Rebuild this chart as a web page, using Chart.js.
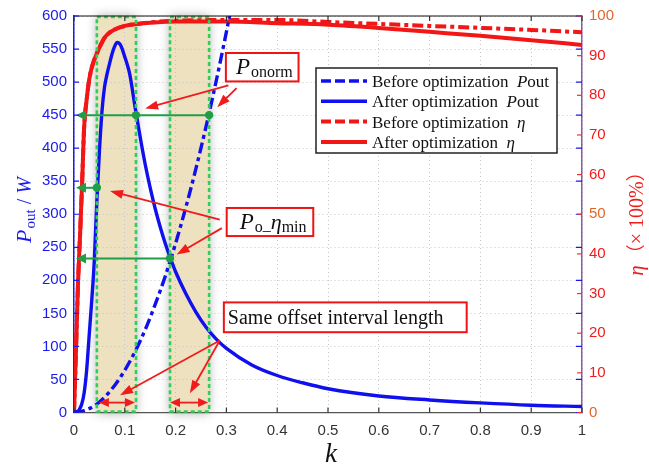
<!DOCTYPE html>
<html>
<head>
<meta charset="utf-8">
<script src="https://cdn.jsdelivr.net/npm/chart.js@4.4.0/dist/chart.umd.min.js"></script>
<style>
  html, body { margin: 0; padding: 0; background: #fff; }
  canvas { display: block; }
</style>
</head>
<body>
<canvas id="chart" width="649" height="468"></canvas>
<script>
// === Data ===
const kAfterP = [0, 0.005, 0.01, 0.015, 0.02, 0.025, 0.03, 0.035, 0.04, 0.045, 0.05, 0.055, 0.06, 0.065, 0.07, 0.075, 0.08, 0.085, 0.09, 0.095, 0.1, 0.105, 0.11, 0.115, 0.12, 0.13, 0.14, 0.15, 0.16, 0.17, 0.18, 0.19, 0.2, 0.22, 0.24, 0.26, 0.28, 0.3, 0.35, 0.4, 0.45, 0.5, 0.6, 0.7, 0.8, 0.9, 1.0];
const pAfter  = [0, 1, 4, 12, 30, 65, 118, 170, 230, 320, 395, 455, 492, 512, 528, 543, 554, 560, 558, 550, 538, 526, 511, 488, 463, 418, 376, 340, 308, 280, 255, 233, 213, 180, 152, 129, 111, 97, 72, 56, 45, 36, 25, 19, 14.5, 11, 9];

const kBeforeP = [0, 0.02, 0.04, 0.06, 0.08, 0.1, 0.12, 0.14, 0.16, 0.18, 0.2, 0.22, 0.24, 0.26, 0.28, 0.3, 0.31];
const pBefore  = [0, 3, 10, 23, 41, 64, 92, 125, 164, 207, 256, 310, 369, 433, 502, 576, 615];

const kEta      = [0, 0.004, 0.008, 0.012, 0.016, 0.02, 0.025, 0.03, 0.035, 0.04, 0.05, 0.06, 0.07, 0.08, 0.1, 0.125, 0.15, 0.2, 0.3, 0.4, 0.5, 0.6, 0.7, 0.8, 0.9, 1.0];
const etaAfter  = [0, 16, 33, 45, 58, 72, 79, 84, 87, 89, 92, 94.5, 95.8, 96.6, 97.5, 98, 98.3, 98.6, 98.6, 98.2, 97.8, 97, 96, 95, 93.9, 92.7];
const etaBefore = [0, 16, 33, 45, 58, 72, 79, 84, 87, 89, 92, 94.5, 95.8, 96.6, 97.5, 98, 98.4, 98.8, 99, 99, 98.5, 98, 97.5, 97, 96.5, 95.9];

const xTicks = [0, 0.1, 0.2, 0.3, 0.4, 0.5, 0.6, 0.7, 0.8, 0.9, 1];

// annotation marks, in data units (k, Pout)
const bands = [[0.045, 0.122], [0.189, 0.266]];
const greenLevels = [[450, 0.122, 0.266], [340, 0.045], [233, 0.189]];
const redArrows = [
  [0.304, 495, 0.140, 460], [0.320, 491, 0.282, 462],
  [0.287, 292, 0.071, 335], [0.291, 279, 0.202, 239],
  [0.287, 109, 0.0906, 26], [0.287, 109, 0.228, 29]
];
const doubleArrows = [[0.049, 0.120, 15], [0.189, 0.264, 15]];

const SERIF = "'Liberation Serif', 'Times New Roman', serif";
const SANS = "'Liberation Sans', Arial, sans-serif";

const toXY = (ks, vs) => ks.map((k, i) => ({ x: k, y: vs[i] }));

// === Drawing helpers ===
function drawRuns(ctx, x, y, runs) {
  let cx = x;
  runs.forEach(r => {
    ctx.font = r.f;
    ctx.fillText(r.t, cx, y + (r.dy || 0));
    cx += ctx.measureText(r.t).width + (r.gap || 0);
  });
  return cx - x;
}
function measureRuns(ctx, runs) {
  let w = 0;
  runs.forEach(r => { ctx.font = r.f; w += ctx.measureText(r.t).width + (r.gap || 0); });
  return w;
}
function head(ctx, x1, y1, x2, y2, len, half) {
  const a = Math.atan2(y2 - y1, x2 - x1);
  const c = Math.cos(a), s = Math.sin(a);
  ctx.beginPath();
  ctx.moveTo(x2, y2);
  ctx.lineTo(x2 - len * c + half * s, y2 - len * s - half * c);
  ctx.lineTo(x2 - len * c - half * s, y2 - len * s + half * c);
  ctx.closePath();
  ctx.fill();
}
function arrow(ctx, x1, y1, x2, y2, len, half) {
  const a = Math.atan2(y2 - y1, x2 - x1);
  ctx.beginPath();
  ctx.moveTo(x1, y1);
  ctx.lineTo(x2 - len * 0.8 * Math.cos(a), y2 - len * 0.8 * Math.sin(a));
  ctx.stroke();
  head(ctx, x1, y1, x2, y2, len, half);
}

// === Plugin: bands, arrows, boxes, legend, titles ===
const figurePlugin = {
  id: 'figure',
  beforeDraw(chart) {
    const { ctx, chartArea: a, scales: { x } } = chart;
    ctx.save();
    bands.forEach(([k1, k2]) => {
      const x1 = x.getPixelForValue(k1), x2 = x.getPixelForValue(k2);
      ctx.shadowColor = 'rgba(0,0,0,0.32)';
      ctx.shadowBlur = 10;
      ctx.fillStyle = '#eee1c0';
      ctx.fillRect(x1, a.top, x2 - x1, a.bottom - a.top);
    });
    ctx.restore();
  },
  afterDatasetsDraw(chart) {
    const { ctx, chartArea: a, scales: { x, y } } = chart;
    const X = v => x.getPixelForValue(v);
    const Y = v => y.getPixelForValue(v);
    ctx.save();

    // green dotted band borders
    ctx.strokeStyle = '#2fcf57';
    ctx.lineWidth = 2.6;
    ctx.setLineDash([4, 3]);
    bands.forEach(([k1, k2]) => {
      ctx.strokeRect(X(k1), a.top + 1, X(k2) - X(k1), a.bottom - a.top - 2);
    });
    ctx.setLineDash([]);

    // green level arrows
    ctx.strokeStyle = '#1f9e45';
    ctx.fillStyle = '#1f9e45';
    ctx.lineWidth = 2;
    greenLevels.forEach(([p, ...ks]) => {
      const yy = Y(p);
      const xr = X(Math.max(...ks));
      arrow(ctx, xr, yy, a.left + 2, yy, 10, 5);
      ks.forEach(k => {
        ctx.beginPath();
        ctx.arc(X(k), yy, 4.2, 0, Math.PI * 2);
        ctx.fill();
      });
    });

    // red pointer arrows
    ctx.strokeStyle = '#f01c1c';
    ctx.fillStyle = '#f01c1c';
    ctx.lineWidth = 1.8;
    redArrows.forEach(([k1, p1, k2, p2]) => {
      arrow(ctx, X(k1), Y(p1), X(k2), Y(p2), 13, 4.5);
    });
    doubleArrows.forEach(([k1, k2, p]) => {
      const yy = Y(p), x1 = X(k1), x2 = X(k2);
      ctx.beginPath();
      ctx.moveTo(x1 + 8, yy);
      ctx.lineTo(x2 - 8, yy);
      ctx.stroke();
      head(ctx, x2, yy, x1, yy, 10, 4.5);
      head(ctx, x1, yy, x2, yy, 10, 4.5);
    });

    // text boxes
    const box = (k1, p1, k2, p2) => {
      const bx = X(k1), by = Y(p1), bw = X(k2) - bx, bh = Y(p2) - by;
      ctx.fillStyle = '#fff';
      ctx.fillRect(bx, by, bw, bh);
      ctx.strokeStyle = '#ee1414';
      ctx.lineWidth = 2;
      ctx.strokeRect(bx, by, bw, bh);
      ctx.fillStyle = '#111';
      return [bx, by];
    };
    ctx.textBaseline = 'alphabetic';
    ctx.textAlign = 'left';
    let [bx, by] = box(0.299, 544, 0.442, 501);
    drawRuns(ctx, bx + 10, by + 21, [
      { t: 'P', f: `italic 23px ${SERIF}`, gap: 1 },
      { t: 'onorm', f: `16px ${SERIF}`, dy: 3 }
    ]);
    [bx, by] = box(0.3006, 309.5, 0.471, 267);
    drawRuns(ctx, bx + 13, by + 21, [
      { t: 'P', f: `italic 23px ${SERIF}`, gap: 1 },
      { t: 'o', f: `16px ${SERIF}`, dy: 3 },
      { t: '_', f: `16px ${SERIF}`, dy: 1 },
      { t: 'η', f: `italic 22px ${SERIF}` },
      { t: 'min', f: `16px ${SERIF}`, dy: 3 }
    ]);
    [bx, by] = box(0.295, 166.6, 0.773, 121.5);
    drawRuns(ctx, bx + 4, by + 22, [{ t: 'Same offset interval length', f: `20px ${SERIF}` }]);

    // legend
    const lx = 316, ly = 68, lw = 241, lh = 85;
    ctx.fillStyle = '#fff';
    ctx.fillRect(lx, ly, lw, lh);
    ctx.strokeStyle = '#222';
    ctx.lineWidth = 1.5;
    ctx.strokeRect(lx, ly, lw, lh);
    chart.data.datasets.forEach((ds, i) => {
      const rowY = ly + 13 + i * 20.3;
      ctx.strokeStyle = ds.borderColor;
      ctx.lineWidth = ds.borderWidth;
      ctx.setLineDash(ds.legendDash || []);
      ctx.beginPath();
      ctx.moveTo(lx + 5, rowY);
      ctx.lineTo(lx + 51, rowY);
      ctx.stroke();
      ctx.setLineDash([]);
      ctx.fillStyle = '#111';
      drawRuns(ctx, lx + 56, rowY + 6, ds.legendRuns);
    });

    ctx.restore();
  },
  afterDraw(chart) {
    const { ctx, chartArea: a, scales: { x, y, y2 } } = chart;
    ctx.save();
    // top frame line
    ctx.strokeStyle = '#111';
    ctx.lineWidth = 1.2;
    ctx.beginPath();
    ctx.moveTo(a.left, a.top);
    ctx.lineTo(a.right, a.top);
    ctx.stroke();

    // inward tick marks
    ctx.lineWidth = 1.2;
    ctx.strokeStyle = '#333';
    x.ticks.forEach(t => {
      const xx = x.getPixelForValue(t.value);
      ctx.beginPath();
      ctx.moveTo(xx, a.bottom); ctx.lineTo(xx, a.bottom - 5);
      ctx.moveTo(xx, a.top); ctx.lineTo(xx, a.top + 5);
      ctx.stroke();
    });
    ctx.strokeStyle = '#1a1aee';
    y.ticks.forEach(t => {
      const yy = y.getPixelForValue(t.value);
      ctx.beginPath();
      ctx.moveTo(a.left, yy); ctx.lineTo(a.left + 5, yy);
      ctx.moveTo(a.right, yy); ctx.lineTo(a.right - 6, yy);
      ctx.stroke();
    });
    ctx.strokeStyle = '#f03030';
    y2.ticks.forEach(t => {
      const yy = y2.getPixelForValue(t.value);
      ctx.beginPath();
      ctx.moveTo(a.right, yy); ctx.lineTo(a.right - 5, yy);
      ctx.stroke();
    });

    // axis titles
    ctx.textBaseline = 'alphabetic';
    ctx.fillStyle = '#1a1aee';
    const leftRuns = [
      { t: 'P', f: `italic 22px ${SERIF}`, gap: 1 },
      { t: 'out', f: `15px ${SERIF}`, dy: 4 },
      { t: ' / ', f: `20px ${SERIF}` },
      { t: 'W', f: `italic 20px ${SERIF}` }
    ];
    ctx.save();
    ctx.translate(31, 210);
    ctx.rotate(-Math.PI / 2);
    drawRuns(ctx, -measureRuns(ctx, leftRuns) / 2, 0, leftRuns);
    ctx.restore();

    ctx.fillStyle = '#f01c1c';
    const rightRuns = [
      { t: 'η', f: `italic 21px ${SERIF}`, gap: 2 },
      { t: '（', f: `19px 'Noto Sans CJK SC'` },
      { t: '× 100%', f: `20px ${SERIF}` },
      { t: '）', f: `19px 'Noto Sans CJK SC'` }
    ];
    ctx.save();
    ctx.translate(643, 219);
    ctx.rotate(-Math.PI / 2);
    drawRuns(ctx, -measureRuns(ctx, rightRuns) / 2, 0, rightRuns);
    ctx.restore();

    ctx.fillStyle = '#111';
    ctx.font = `italic 27px ${SERIF}`;
    ctx.textAlign = 'center';
    ctx.fillText('k', 331, 462);
    ctx.restore();
  }
};

// === Chart ===
const gridStyle = { color: '#c4c4c4', drawTicks: false, lineWidth: 1 };
const legendFont = `17px ${SERIF}`;
const legendItalic = `italic 17px ${SERIF}`;

new Chart(document.getElementById('chart'), {
  type: 'line',
  data: {
    datasets: [
      {
        label: 'Before optimization Pout',
        data: toXY(kBeforeP, pBefore),
        borderColor: '#1010ee',
        borderWidth: 3.4,
        borderDash: [11, 4, 4, 4],
        legendDash: [10, 4],
        yAxisID: 'y',
        order: 1,
        legendRuns: [{ t: 'Before optimization  ', f: legendFont }, { t: 'P', f: legendItalic }, { t: 'out', f: legendFont }]
      },
      {
        label: 'After optimization Pout',
        data: toXY(kAfterP, pAfter),
        borderColor: '#1010ee',
        borderWidth: 3.4,
        yAxisID: 'y',
        order: 2,
        legendRuns: [{ t: 'After optimization  ', f: legendFont }, { t: 'P', f: legendItalic }, { t: 'out', f: legendFont }]
      },
      {
        label: 'Before optimization η',
        data: toXY(kEta, etaBefore),
        borderColor: '#f21616',
        borderWidth: 4,
        borderDash: [11, 4, 4, 4],
        legendDash: [10, 4],
        yAxisID: 'y2',
        order: 3,
        legendRuns: [{ t: 'Before optimization  ', f: legendFont }, { t: 'η', f: legendItalic }]
      },
      {
        label: 'After optimization η',
        data: toXY(kEta, etaAfter),
        borderColor: '#f21616',
        borderWidth: 4,
        yAxisID: 'y2',
        order: 4,
        legendRuns: [{ t: 'After optimization  ', f: legendFont }, { t: 'η', f: legendItalic }]
      }
    ]
  },
  options: {
    responsive: false,
    animation: false,
    devicePixelRatio: 1,
    layout: { padding: { top: 13.5, left: 0, right: 0, bottom: 0 } },
    elements: {
      point: { radius: 0 },
      line: { cubicInterpolationMode: 'monotone', fill: false }
    },
    plugins: { legend: { display: false }, tooltip: { enabled: false } },
    scales: {
      x: {
        type: 'linear',
        min: 0, max: 1,
        afterBuildTicks: s => { s.ticks = xTicks.map(v => ({ value: v })); },
        afterFit: s => { s.height = 55.5; },
        ticks: {
          color: '#333',
          font: { family: SANS, size: 15 },
          padding: 9,
          maxRotation: 0,
          callback: v => String(Math.round(v * 10) / 10)
        },
        grid: gridStyle,
        border: { display: true, color: '#555', width: 1.2, dash: [1, 3] }
      },
      y: {
        position: 'left',
        min: 0, max: 600,
        afterFit: s => { s.width = 74; },
        ticks: {
          stepSize: 50,
          color: '#1a1aee',
          font: { family: SANS, size: 15 },
          padding: 7
        },
        grid: gridStyle,
        border: { display: true, color: '#1a1aee', width: 1.5, dash: [1, 3] }
      },
      y2: {
        position: 'right',
        min: 0, max: 100,
        afterFit: s => { s.width = 67; },
        ticks: {
          stepSize: 10,
          color: ctx => (ctx.tick.value % 50 === 0 ? '#e2662a' : '#f21a1a'),
          font: { family: SANS, size: 15 },
          padding: 7
        },
        grid: { display: false, drawTicks: false },
        border: { display: true, color: '#8e5a9e', width: 1.5 }
      }
    }
  },
  plugins: [figurePlugin]
});
</script>
</body>
</html>
